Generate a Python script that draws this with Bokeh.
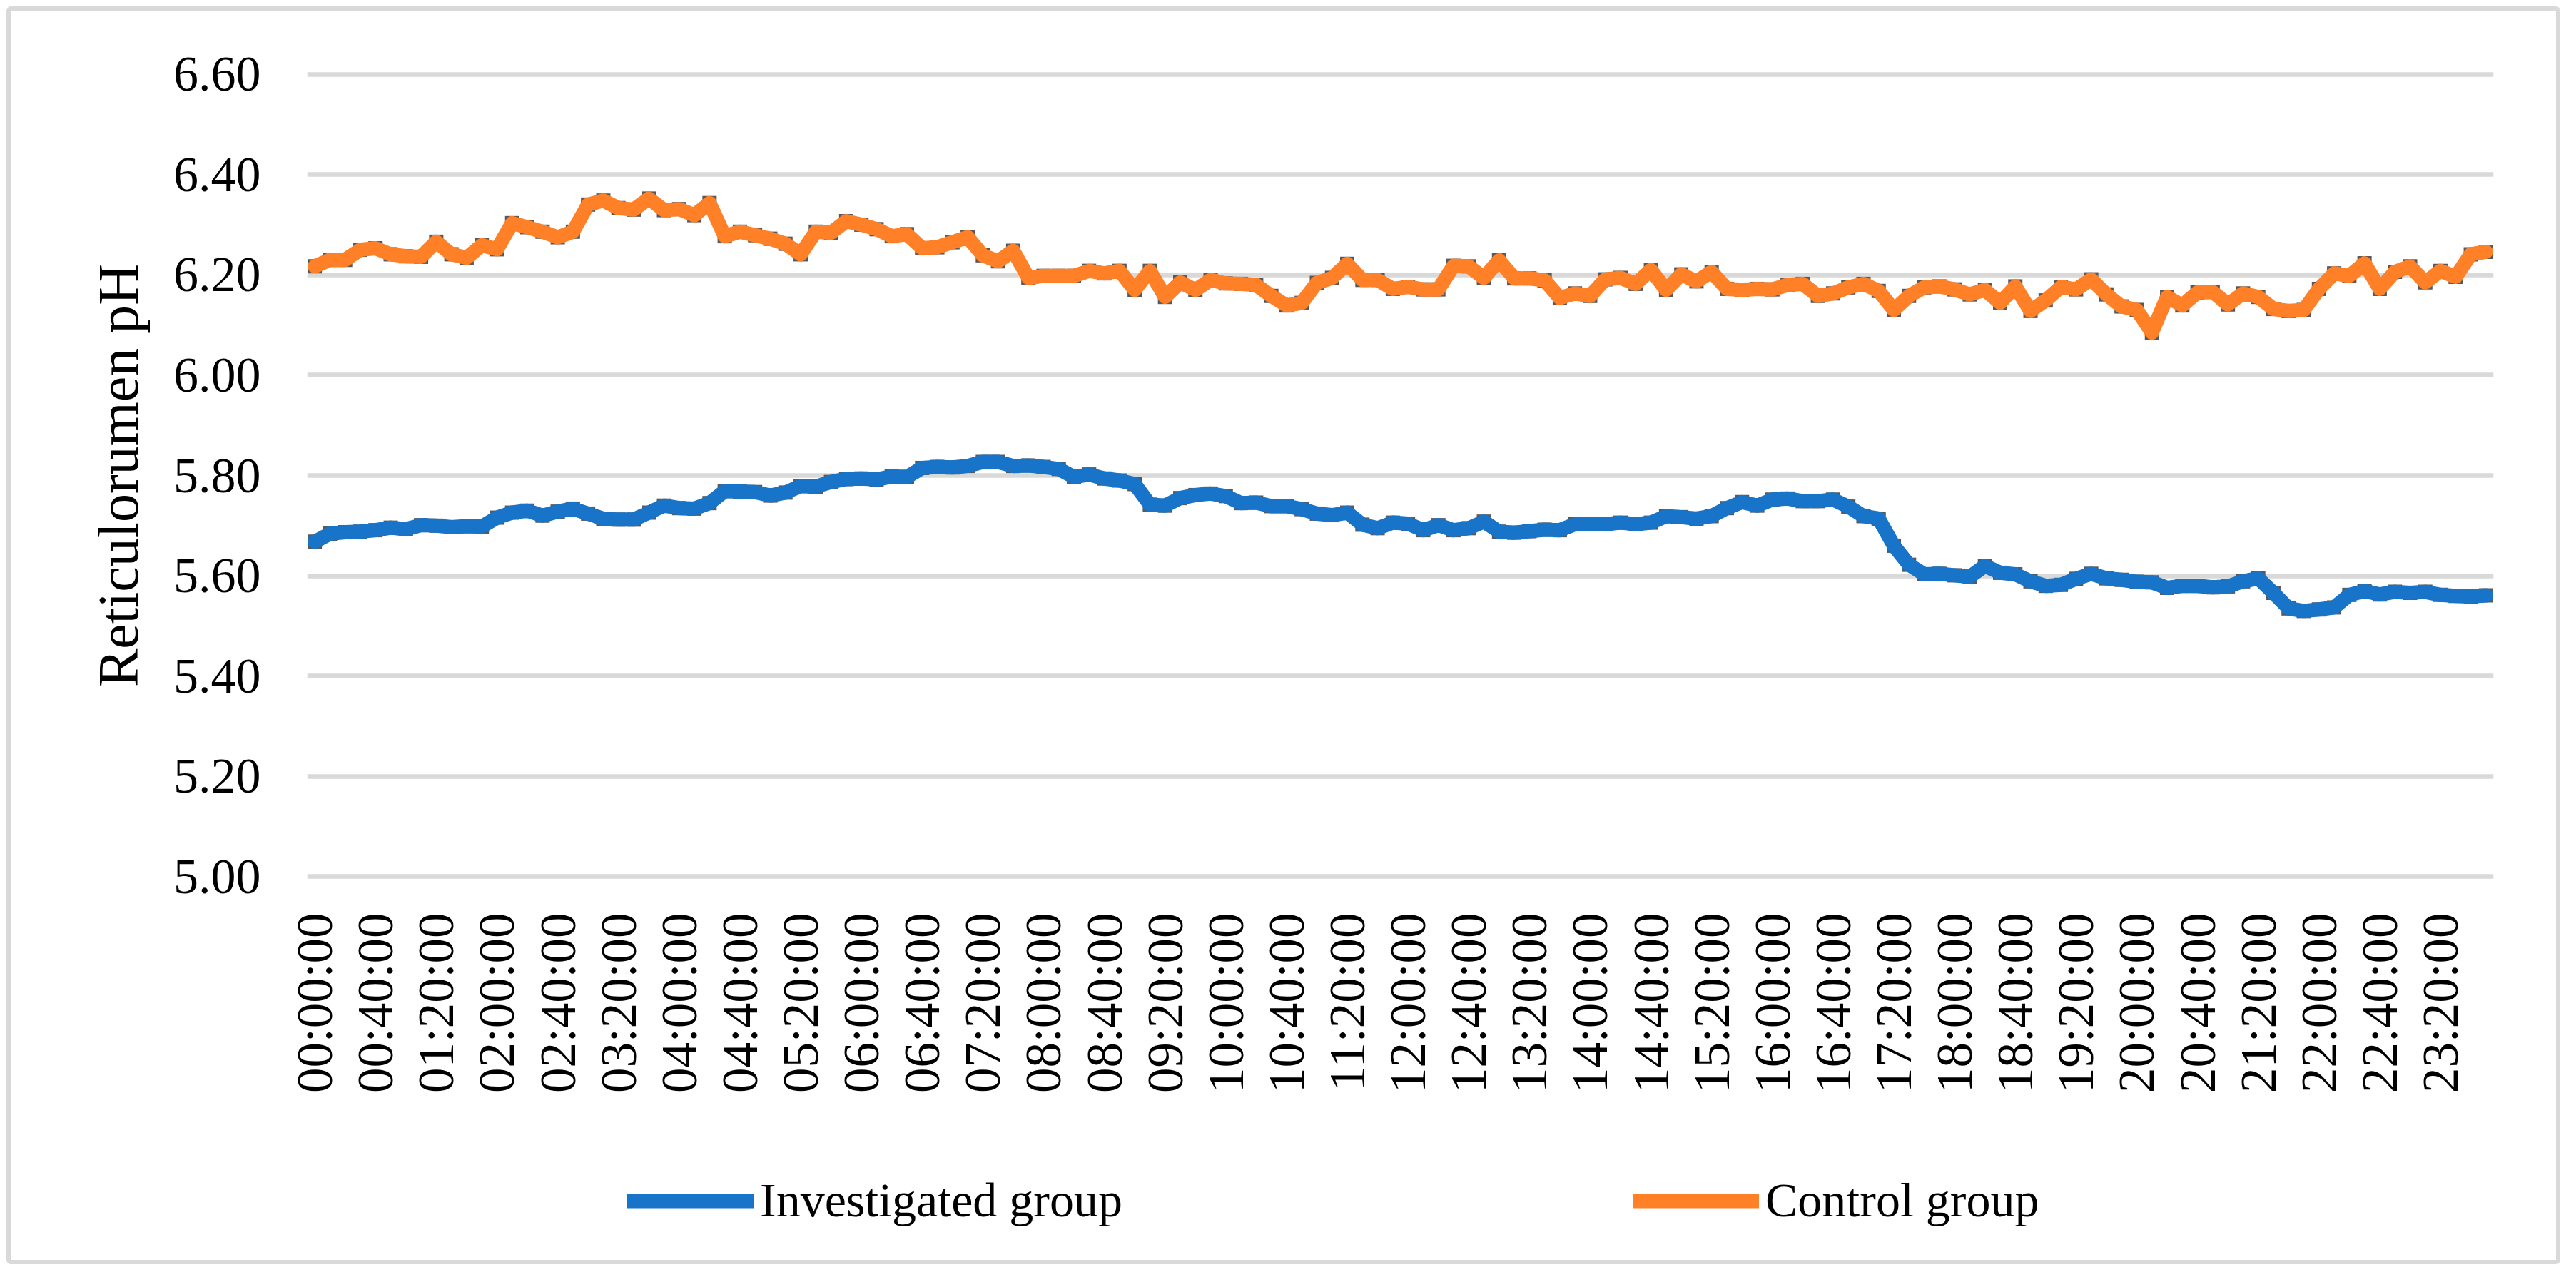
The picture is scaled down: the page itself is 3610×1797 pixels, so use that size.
import math
from bokeh.plotting import figure
from bokeh.layouts import column
from bokeh.models import (Range1d, FixedTicker, NumeralTickFormatter, Legend,
                          LegendItem)
from bokeh.embed import file_html
from bokeh.resources import INLINE

# ---------------- data (10-minute readings over 24 h) ----------------
investigated = [
    5.668, 5.684, 5.687, 5.688, 5.691, 5.696, 5.693, 5.701, 5.700, 5.697,
    5.699, 5.698, 5.716, 5.726, 5.730, 5.720, 5.728, 5.734, 5.724, 5.714,
    5.712, 5.712, 5.726, 5.740, 5.735, 5.734, 5.745, 5.769, 5.768, 5.767,
    5.760, 5.766, 5.779, 5.778, 5.787, 5.793, 5.794, 5.792, 5.798, 5.797,
    5.815, 5.817, 5.816, 5.819, 5.827, 5.827, 5.819, 5.820, 5.817, 5.813,
    5.797, 5.802, 5.794, 5.790, 5.783, 5.742, 5.740, 5.755, 5.761, 5.764,
    5.759, 5.745, 5.746, 5.739, 5.739, 5.733, 5.724, 5.721, 5.726, 5.702,
    5.695, 5.706, 5.704, 5.691, 5.701, 5.691, 5.695, 5.708, 5.688, 5.686,
    5.689, 5.692, 5.691, 5.703, 5.703, 5.703, 5.706, 5.703, 5.706, 5.719,
    5.717, 5.714, 5.719, 5.735, 5.747, 5.740, 5.752, 5.754, 5.749, 5.749,
    5.752, 5.738, 5.719, 5.714, 5.660, 5.622, 5.603, 5.604, 5.601, 5.598,
    5.620, 5.606, 5.603, 5.589, 5.580, 5.582, 5.594, 5.604, 5.595, 5.592,
    5.588, 5.587, 5.576, 5.580, 5.580, 5.577, 5.579, 5.589, 5.595, 5.566,
    5.535, 5.530, 5.533, 5.537, 5.562, 5.570, 5.563, 5.568, 5.566, 5.568,
    5.562, 5.560, 5.559, 5.561,
]

control = [
    6.217, 6.230, 6.230, 6.250, 6.253, 6.241, 6.237, 6.236, 6.266, 6.241,
    6.234, 6.259, 6.251, 6.303, 6.295, 6.286, 6.275, 6.286, 6.340, 6.348,
    6.333, 6.330, 6.352, 6.329, 6.331, 6.319, 6.343, 6.277, 6.286, 6.279,
    6.272, 6.262, 6.241, 6.286, 6.284, 6.307, 6.300, 6.291, 6.277, 6.281,
    6.253, 6.255, 6.265, 6.275, 6.239, 6.227, 6.248, 6.194, 6.198, 6.198,
    6.198, 6.208, 6.203, 6.208, 6.170, 6.208, 6.156, 6.185, 6.170, 6.190,
    6.183, 6.182, 6.180, 6.158, 6.139, 6.144, 6.184, 6.194, 6.222, 6.190,
    6.190, 6.172, 6.176, 6.171, 6.171, 6.218, 6.217, 6.194, 6.229, 6.193,
    6.193, 6.189, 6.154, 6.163, 6.158, 6.191, 6.194, 6.182, 6.210, 6.170,
    6.201, 6.187, 6.206, 6.172, 6.170, 6.172, 6.171, 6.180, 6.182, 6.158,
    6.163, 6.175, 6.182, 6.168, 6.130, 6.158, 6.175, 6.177, 6.171, 6.161,
    6.170, 6.144, 6.177, 6.128, 6.149, 6.176, 6.171, 6.191, 6.161, 6.137,
    6.130, 6.085, 6.156, 6.139, 6.165, 6.166, 6.141, 6.163, 6.156, 6.132,
    6.128, 6.130, 6.172, 6.203, 6.198, 6.223, 6.172, 6.206, 6.217, 6.185,
    6.208, 6.196, 6.241, 6.246,
]

time_labels = [
    "00:00:00", "00:40:00", "01:20:00", "02:00:00", "02:40:00", "03:20:00",
    "04:00:00", "04:40:00", "05:20:00", "06:00:00", "06:40:00", "07:20:00",
    "08:00:00", "08:40:00", "09:20:00", "10:00:00", "10:40:00", "11:20:00",
    "12:00:00", "12:40:00", "13:20:00", "14:00:00", "14:40:00", "15:20:00",
    "16:00:00", "16:40:00", "17:20:00", "18:00:00", "18:40:00", "19:20:00",
    "20:00:00", "20:40:00", "21:20:00", "22:00:00", "22:40:00", "23:20:00",
]
label_every = 4  # one label per 40 minutes (4 readings)

y_ticks = [5.00, 5.20, 5.40, 5.60, 5.80, 6.00, 6.20, 6.40, 6.60]

series_names = ["Investigated group", "Control group"]
series_colors = ["#1874c8", "#ff8027"]
marker_color = "#595959"
grid_color = "#d9d9d9"
FONT = "Liberation Serif"
LW = 20

W = 3567          # inner width of the chart box
H_MAIN = 1577     # plot part
H_LEG = 174       # legend strip

# ---------------- main figure ----------------
n = len(investigated)
idx = list(range(n))

p = figure(width=W, height=H_MAIN, output_backend="svg", toolbar_location=None,
           x_range=Range1d(-0.5, n - 0.5), y_range=Range1d(4.995, 6.605),
           min_border_left=415, min_border_right=88,
           min_border_top=85, min_border_bottom=360)
p.background_fill_color = "white"
p.border_fill_color = "white"
p.outline_line_color = None

p.xgrid.visible = False
p.ygrid.ticker = FixedTicker(ticks=y_ticks)
p.ygrid.grid_line_color = grid_color
p.ygrid.grid_line_width = 6.5

ya = p.yaxis[0]
ya.ticker = FixedTicker(ticks=y_ticks)
ya.formatter = NumeralTickFormatter(format="0.00")
ya.axis_line_color = None
ya.major_tick_line_color = None
ya.minor_tick_line_color = None
ya.major_tick_out = 0
ya.major_tick_in = 0
ya.major_label_standoff = 65
ya.major_label_text_font = FONT
ya.major_label_text_font_size = "70px"
ya.major_label_text_color = "black"
ya.axis_label = "Reticulorumen pH"
ya.axis_label_text_font = FONT
ya.axis_label_text_font_size = "80px"
ya.axis_label_text_font_style = "normal"
ya.axis_label_text_color = "black"
ya.axis_label_standoff = 30

xa = p.xaxis[0]
tick_pos = [i for i in idx if i % label_every == 0][:len(time_labels)]
xa.ticker = FixedTicker(ticks=tick_pos)
xa.major_label_overrides = {t: lab for t, lab in zip(tick_pos, time_labels)}
xa.major_label_orientation = math.pi / 2
xa.axis_line_color = None
xa.major_tick_line_color = None
xa.minor_tick_line_color = None
xa.major_tick_out = 0
xa.major_tick_in = 0
xa.major_label_standoff = 47
xa.major_label_text_font = FONT
xa.major_label_text_font_size = "71px"
xa.major_label_text_color = "black"

for vals, col in zip([investigated, control], series_colors):
    p.scatter(idx, vals, marker="square", size=LW, fill_color=marker_color,
              line_color=None)
    p.line(idx, vals, line_width=LW, line_color=col,
           line_cap="round", line_join="round")

# ---------------- legend strip ----------------
pl = figure(width=W, height=H_LEG, output_backend="svg", toolbar_location=None,
            x_range=Range1d(0, 1), y_range=Range1d(0, 1),
            x_axis_type=None, y_axis_type=None, min_border=0)
pl.outline_line_color = None
pl.background_fill_color = "white"
pl.border_fill_color = "white"

items = []
for name, col in zip(series_names, series_colors):
    # legend-only renderer (no visible data)
    r = pl.line(x=[float("nan")], y=[float("nan")], line_width=LW,
                line_color=col, line_cap="round", line_join="round")
    items.append(LegendItem(label=name, renderers=[r]))

legend = Legend(items=items, orientation="horizontal", location=(449, 44),
                margin=0, padding=0, spacing=715, glyph_width=177,
                glyph_height=78, label_standoff=9,
                label_text_font=FONT, label_text_font_size="68px",
                label_text_color="black", border_line_color=None,
                background_fill_alpha=0)
pl.add_layout(legend)

layout = column(p, pl, spacing=0, margin=(9, 0, 0, 9),
                styles={"border": "6px solid #d9d9d9", "border-radius": "6px",
                        "box-sizing": "content-box"})

open("out.html", "w").write(file_html(layout, INLINE))
